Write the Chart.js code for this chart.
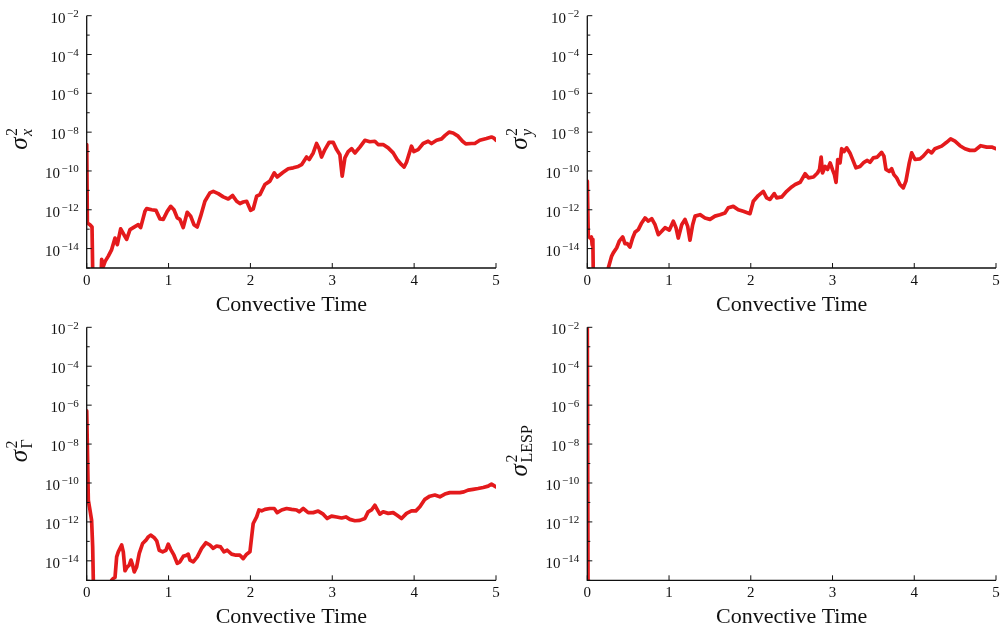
<!DOCTYPE html>
<html>
<head>
<meta charset="utf-8">
<script src="https://cdn.jsdelivr.net/npm/chart.js@4.4.1/dist/chart.umd.min.js"></script>
<style>
  body { margin: 0; background: #fff; }
  #wrap { position: relative; width: 1005px; height: 631px; }
  canvas { position: absolute; }
</style>
</head>
<body>
<div id="wrap">
  <canvas id="panelX" width="500" height="315" style="left:0;top:0"></canvas>
  <canvas id="panelY" width="505" height="315" style="left:500px;top:0"></canvas>
  <canvas id="panelG" width="500" height="316" style="left:0;top:315px"></canvas>
  <canvas id="panelL" width="505" height="316" style="left:500px;top:315px"></canvas>
</div>
<script>
// [convective time, variance] pairs; 1e-17 marks values that fall below the plotted range
const sigmaX = [
  [0, 2.3e-9], [0.008, 2.1e-13], [0.04, 1.7e-13], [0.065, 1.3e-13], [0.08, 1e-17], [0.16, 1e-17],
  [0.183, 2.8e-15], [0.203, 1.2e-15], [0.225, 2.2e-15], [0.264, 4.1e-15], [0.305, 8.9e-15],
  [0.346, 3.5e-14], [0.374, 1.6e-14], [0.415, 1.05e-13], [0.455, 5.2e-14], [0.488, 3.0e-14],
  [0.529, 9.5e-14], [0.569, 1.2e-13], [0.63, 1.7e-13], [0.659, 1.2e-13], [0.712, 8.3e-13],
  [0.733, 1.15e-12], [0.794, 1.0e-12], [0.846, 9.3e-13], [0.895, 3.4e-13], [0.935, 3.2e-13],
  [0.984, 8.3e-13], [1.026, 1.5e-12], [1.066, 1.0e-12], [1.106, 3.8e-13], [1.139, 3.2e-13],
  [1.179, 1.2e-13], [1.228, 7.4e-13], [1.27, 4.7e-13], [1.31, 1.7e-13], [1.35, 1.3e-13],
  [1.392, 4.7e-13], [1.444, 2.75e-12], [1.505, 7.4e-12], [1.546, 8.9e-12], [1.607, 6.8e-12],
  [1.668, 4.6e-12], [1.729, 3.6e-12], [1.783, 5.4e-12], [1.832, 2.75e-12], [1.872, 2.1e-12],
  [1.912, 2.5e-12], [1.954, 2.75e-12], [2.002, 9.3e-13], [2.034, 1.1e-12], [2.076, 5.0e-12],
  [2.116, 6.0e-12], [2.177, 2.0e-11], [2.238, 3.0e-11], [2.291, 7.9e-11], [2.327, 4.9e-11],
  [2.4, 8.5e-11], [2.462, 1.3e-10], [2.523, 1.45e-10], [2.584, 1.7e-10], [2.625, 2.1e-10],
  [2.686, 5.2e-10], [2.718, 3.9e-10], [2.767, 8.5e-10], [2.808, 2.6e-9], [2.84, 1.4e-9],
  [2.869, 5.2e-10], [2.91, 1.26e-9], [2.962, 3.0e-9], [3.011, 3.0e-9], [3.053, 1.26e-9],
  [3.093, 6.9e-10], [3.121, 5.4e-11], [3.154, 4.7e-10], [3.194, 1.0e-9], [3.236, 1.4e-9],
  [3.276, 8.5e-10], [3.337, 1.7e-9], [3.398, 3.8e-9], [3.459, 3.2e-9], [3.52, 3.4e-9],
  [3.56, 2.3e-9], [3.621, 2.3e-9], [3.683, 1.55e-9], [3.744, 8.5e-10], [3.792, 3.9e-10],
  [3.846, 2.1e-10], [3.878, 1.6e-10], [3.907, 2.8e-10], [3.968, 1.9e-9], [3.996, 1.0e-9],
  [4.049, 1.26e-9], [4.11, 2.6e-9], [4.171, 3.4e-9], [4.212, 2.6e-9], [4.274, 3.8e-9],
  [4.335, 4.5e-9], [4.375, 6.6e-9], [4.427, 1.0e-8], [4.476, 9.1e-9], [4.537, 6.2e-9],
  [4.591, 3.4e-9], [4.631, 2.5e-9], [4.701, 2.6e-9], [4.741, 2.6e-9], [4.802, 3.8e-9],
  [4.884, 4.7e-9], [4.945, 5.6e-9], [4.973, 5.0e-9], [5.0, 3.8e-9]
];

const sigmaY = [
  [0, 3.0e-11], [0.012, 4.4e-14], [0.035, 3.5e-14], [0.05, 4.0e-14], [0.06, 1.5e-14], [0.068, 3.0e-14],
  [0.078, 1e-17], [0.25, 1e-17], [0.257, 1.0e-15], [0.298, 4.1e-15], [0.318, 6.0e-15], [0.36, 1.1e-14],
  [0.391, 2.4e-14], [0.433, 4.0e-14], [0.461, 1.8e-14], [0.489, 1.8e-14], [0.522, 1.2e-14],
  [0.555, 3.5e-14], [0.583, 6.9e-14], [0.624, 9.5e-14], [0.665, 2.1e-13], [0.706, 3.8e-13],
  [0.747, 2.6e-13], [0.788, 3.5e-13], [0.829, 1.7e-13], [0.869, 5.2e-14], [0.91, 7.8e-14],
  [0.951, 1.2e-13], [1.003, 8.9e-14], [1.052, 2.6e-13], [1.085, 1.2e-13], [1.113, 3.5e-14],
  [1.155, 1.7e-13], [1.195, 3.2e-13], [1.228, 1.4e-13], [1.256, 2.7e-14], [1.289, 1.7e-13],
  [1.318, 4.7e-13], [1.379, 5.6e-13], [1.44, 3.8e-13], [1.501, 3.2e-13], [1.562, 4.7e-13],
  [1.623, 5.6e-13], [1.684, 6.9e-13], [1.725, 1.26e-12], [1.786, 1.5e-12], [1.847, 1.0e-12],
  [1.908, 8.3e-13], [1.99, 6.3e-13], [2.031, 2.75e-12], [2.092, 5.4e-12], [2.153, 8.9e-12],
  [2.194, 4.1e-12], [2.235, 3.4e-12], [2.287, 6.8e-12], [2.317, 4.1e-12], [2.378, 4.6e-12],
  [2.439, 8.9e-12], [2.5, 1.5e-11], [2.543, 2.0e-11], [2.604, 2.6e-11], [2.665, 7.2e-11],
  [2.706, 4.4e-11], [2.767, 4.9e-11], [2.816, 7.9e-11], [2.841, 1.2e-10], [2.861, 5.2e-10],
  [2.877, 7.9e-11], [2.91, 1.7e-10], [2.938, 1.2e-10], [2.971, 2.6e-10], [3.003, 1.07e-10],
  [3.023, 6.5e-11], [3.043, 2.6e-11], [3.064, 3.9e-10], [3.092, 2.6e-10], [3.112, 1.4e-9],
  [3.14, 1.0e-9], [3.173, 1.55e-9], [3.213, 8.5e-10], [3.254, 3.2e-10], [3.287, 1.45e-10],
  [3.336, 1.7e-10], [3.385, 2.8e-10], [3.425, 3.5e-10], [3.458, 2.8e-10], [3.499, 4.7e-10],
  [3.548, 5.2e-10], [3.601, 9.1e-10], [3.629, 5.8e-10], [3.654, 1.2e-10], [3.694, 9.5e-11],
  [3.723, 1.3e-10], [3.751, 6.5e-11], [3.785, 4.4e-11], [3.825, 2.0e-11], [3.866, 1.35e-11],
  [3.898, 3.0e-11], [3.939, 2.6e-10], [3.968, 8.5e-10], [4.009, 3.9e-10], [4.07, 4.2e-10],
  [4.11, 5.8e-10], [4.171, 1.15e-9], [4.213, 8.5e-10], [4.253, 1.4e-9], [4.335, 1.9e-9],
  [4.396, 3.0e-9], [4.445, 4.5e-9], [4.498, 3.4e-9], [4.559, 2.0e-9], [4.62, 1.4e-9],
  [4.681, 1.15e-9], [4.742, 1.15e-9], [4.812, 2.0e-9], [4.886, 1.7e-9], [4.947, 1.7e-9], [5.0, 1.4e-9]
];

const sigmaGamma = [
  [0, 5.1e-7], [0.02, 1.3e-11], [0.04, 4.1e-12], [0.06, 1.2e-12], [0.073, 5.2e-14], [0.09, 1e-17],
  [0.3, 1e-17], [0.305, 1.0e-15], [0.325, 1.26e-15], [0.346, 1.4e-15], [0.366, 1.6e-14],
  [0.386, 2.9e-14], [0.427, 6.5e-14], [0.447, 2.9e-14], [0.468, 3.1e-15], [0.496, 4.9e-15],
  [0.52, 6.0e-15], [0.541, 1.1e-14], [0.561, 6.0e-15], [0.581, 2.7e-15], [0.61, 4.9e-15],
  [0.642, 2.4e-14], [0.683, 7.8e-14], [0.724, 1.15e-13], [0.752, 1.7e-13], [0.781, 2.1e-13],
  [0.822, 1.6e-13], [0.855, 1.07e-13], [0.886, 3.5e-14], [0.928, 2.9e-14], [0.968, 3.5e-14],
  [0.996, 7.2e-14], [1.026, 3.9e-14], [1.066, 1.95e-14], [1.106, 7.4e-15], [1.139, 8.9e-15],
  [1.18, 1.7e-14], [1.221, 1.95e-14], [1.241, 2.2e-14], [1.261, 1.1e-14], [1.302, 8.9e-15],
  [1.351, 1.6e-14], [1.404, 4.4e-14], [1.457, 8.5e-14], [1.505, 6.5e-14], [1.546, 4.4e-14],
  [1.587, 5.8e-14], [1.636, 5.2e-14], [1.676, 2.9e-14], [1.717, 3.5e-14], [1.77, 2.2e-14],
  [1.823, 1.95e-14], [1.872, 1.95e-14], [1.912, 1.3e-14], [1.954, 2.2e-14], [1.994, 2.9e-14],
  [2.015, 1.7e-13], [2.034, 8.3e-13], [2.076, 1.8e-12], [2.104, 4.1e-12], [2.137, 3.7e-12],
  [2.177, 4.4e-12], [2.238, 4.9e-12], [2.291, 4.9e-12], [2.327, 3.0e-12], [2.381, 4.1e-12],
  [2.442, 4.9e-12], [2.503, 4.4e-12], [2.564, 4.1e-12], [2.596, 3.3e-12], [2.645, 4.9e-12],
  [2.706, 3.0e-12], [2.767, 3.0e-12], [2.828, 3.6e-12], [2.889, 2.5e-12], [2.938, 1.5e-12],
  [2.991, 2.0e-12], [3.053, 1.8e-12], [3.114, 1.6e-12], [3.166, 1.8e-12], [3.215, 1.35e-12],
  [3.276, 1.15e-12], [3.337, 1.2e-12], [3.398, 1.5e-12], [3.438, 3.3e-12], [3.479, 4.1e-12],
  [3.52, 7.2e-12], [3.548, 4.4e-12], [3.581, 2.5e-12], [3.621, 3.3e-12], [3.683, 2.75e-12],
  [3.744, 3.0e-12], [3.792, 2.2e-12], [3.846, 1.5e-12], [3.907, 2.75e-12], [3.968, 3.7e-12],
  [4.021, 3.7e-12], [4.07, 6.0e-12], [4.131, 1.45e-11], [4.192, 2.1e-11], [4.253, 2.4e-11],
  [4.314, 1.95e-11], [4.375, 2.7e-11], [4.436, 3.2e-11], [4.497, 3.2e-11], [4.558, 3.2e-11],
  [4.607, 3.5e-11], [4.659, 4.3e-11], [4.72, 4.7e-11], [4.781, 5.2e-11], [4.843, 5.9e-11],
  [4.904, 6.9e-11], [4.945, 8.7e-11], [4.965, 7.8e-11], [5.0, 6.3e-11]
];

const sigmaLesp = [[0, 1.2e-2], [0.01, 1e-17], [5.0, 1e-17]];

const xTicks = [0, 1, 2, 3, 4, 5];
const yMajorExps = [-14, -12, -10, -8, -6, -4, -2];
const yMinorExps = [-15, -13, -11, -9, -7, -5, -3];
const xTitle = 'Convective Time';

const SERIF = '"Liberation Serif", "DejaVu Serif", serif';
const INK = '#111';

// "10" with a raised negative exponent, right-aligned at xRight
function drawPower(ctx, exp, xRight, yTick) {
    const base = '10';
    const sup = '\u2212' + Math.abs(exp);
    ctx.font = '15px ' + SERIF;
    const wb = ctx.measureText(base).width;
    ctx.font = '11px ' + SERIF;
    const ws = ctx.measureText(sup).width;
    const x0 = xRight - wb - ws - 1.5;
    ctx.textAlign = 'left';
    ctx.textBaseline = 'alphabetic';
    ctx.font = '15px ' + SERIF;
    ctx.fillText(base, x0, yTick + 7);
    ctx.font = '11px ' + SERIF;
    ctx.fillText(sup, x0 + wb + 1.5, yTick + 1.5);
}

// rotated sigma^2 with a subscript
function drawYTitle(ctx, x, y, sub, subItalic) {
    ctx.save();
    ctx.translate(x, y);
    ctx.rotate(-Math.PI / 2);
    ctx.textAlign = 'left';
    ctx.textBaseline = 'alphabetic';
    ctx.font = 'italic 25px ' + SERIF;
    const wSig = ctx.measureText('\u03c3').width;
    ctx.font = '16px ' + SERIF;
    const wTwo = ctx.measureText('2').width;
    const subFont = (subItalic ? 'italic ' : '') + '16px ' + SERIF;
    ctx.font = subFont;
    const wSub = ctx.measureText(sub).width;
    const total = wSig + 1.5 + Math.max(wTwo, wSub);
    const x0 = -total / 2;
    ctx.font = 'italic 25px ' + SERIF;
    ctx.fillText('\u03c3', x0, 0);
    ctx.font = '16px ' + SERIF;
    ctx.fillText('2', x0 + wSig + 1.5, -10);
    ctx.font = subFont;
    ctx.fillText(sub, x0 + wSig + 1.5, 5);
    ctx.restore();
}

const axesDecor = {
    id: 'axesDecor',
    afterDatasetsDraw(chart, args, opts) {
        const ctx = chart.ctx;
        const area = chart.chartArea;
        const xs = chart.scales.x;
        const ys = chart.scales.y;
        ctx.save();
        ctx.strokeStyle = INK;
        ctx.fillStyle = INK;
        ctx.lineWidth = 1.3;

        // left and bottom spines only
        ctx.beginPath();
        ctx.moveTo(area.left, area.top);
        ctx.lineTo(area.left, area.bottom);
        ctx.lineTo(area.right, area.bottom);
        ctx.stroke();

        // inward ticks on the log axis
        ctx.lineWidth = 1;
        yMajorExps.concat(yMinorExps).forEach(e => {
            const py = ys.getPixelForValue(Math.pow(10, e));
            const len = e % 2 === 0 ? 5 : 3;
            ctx.beginPath();
            ctx.moveTo(area.left, py);
            ctx.lineTo(area.left + len, py);
            ctx.stroke();
        });
        yMajorExps.forEach(e => {
            drawPower(ctx, e, area.left - 8, ys.getPixelForValue(Math.pow(10, e)));
        });

        // time axis ticks and labels
        ctx.font = '15px ' + SERIF;
        ctx.textAlign = 'center';
        ctx.textBaseline = 'middle';
        xTicks.forEach(t => {
            const px = xs.getPixelForValue(t);
            ctx.beginPath();
            ctx.moveTo(px, area.bottom);
            ctx.lineTo(px, area.bottom - 5);
            ctx.stroke();
            ctx.fillText(String(t), px, area.bottom + 13);
        });

        ctx.font = '22px ' + SERIF;
        ctx.textBaseline = 'alphabetic';
        ctx.fillText(xTitle, (area.left + area.right) / 2, area.bottom + 42.5);

        drawYTitle(ctx, area.left - 60, (area.top + area.bottom) / 2 - 3, opts.sub, opts.subItalic);
        ctx.restore();
    }
};

function makePanel(canvasId, series, sub, subItalic, pad) {
    const ctx = document.getElementById(canvasId).getContext('2d');
    return new Chart(ctx, {
        type: 'line',
        data: {
            datasets: [{
                data: series.map(p => ({ x: p[0], y: p[1] })),
                borderColor: '#e41a1c',
                borderWidth: 3.7,
                borderJoinStyle: 'round',
                borderCapStyle: 'round',
                pointRadius: 0,
                tension: 0,
                fill: false,
                clip: 0
            }]
        },
        options: {
            responsive: false,
            animation: false,
            devicePixelRatio: 1,
            layout: { padding: pad },
            scales: {
                x: { type: 'linear', min: 0, max: 5, display: false },
                y: { type: 'logarithmic', min: 1e-15, max: 1e-2, display: false }
            },
            plugins: {
                legend: { display: false },
                tooltip: { enabled: false },
                axesDecor: { sub: sub, subItalic: subItalic }
            }
        },
        plugins: [axesDecor]
    });
}

makePanel('panelX', sigmaX, 'x', true, { left: 86.7, top: 15.7, right: 4, bottom: 47 });
makePanel('panelY', sigmaY, 'y', true, { left: 87.3, top: 15.7, right: 9, bottom: 47 });
makePanel('panelG', sigmaGamma, '\u0393', false, { left: 86.7, top: 12.3, right: 4, bottom: 50.7 });
makePanel('panelL', sigmaLesp, 'LESP', false, { left: 87.3, top: 12.3, right: 9, bottom: 50.7 });
</script>
</body>
</html>
